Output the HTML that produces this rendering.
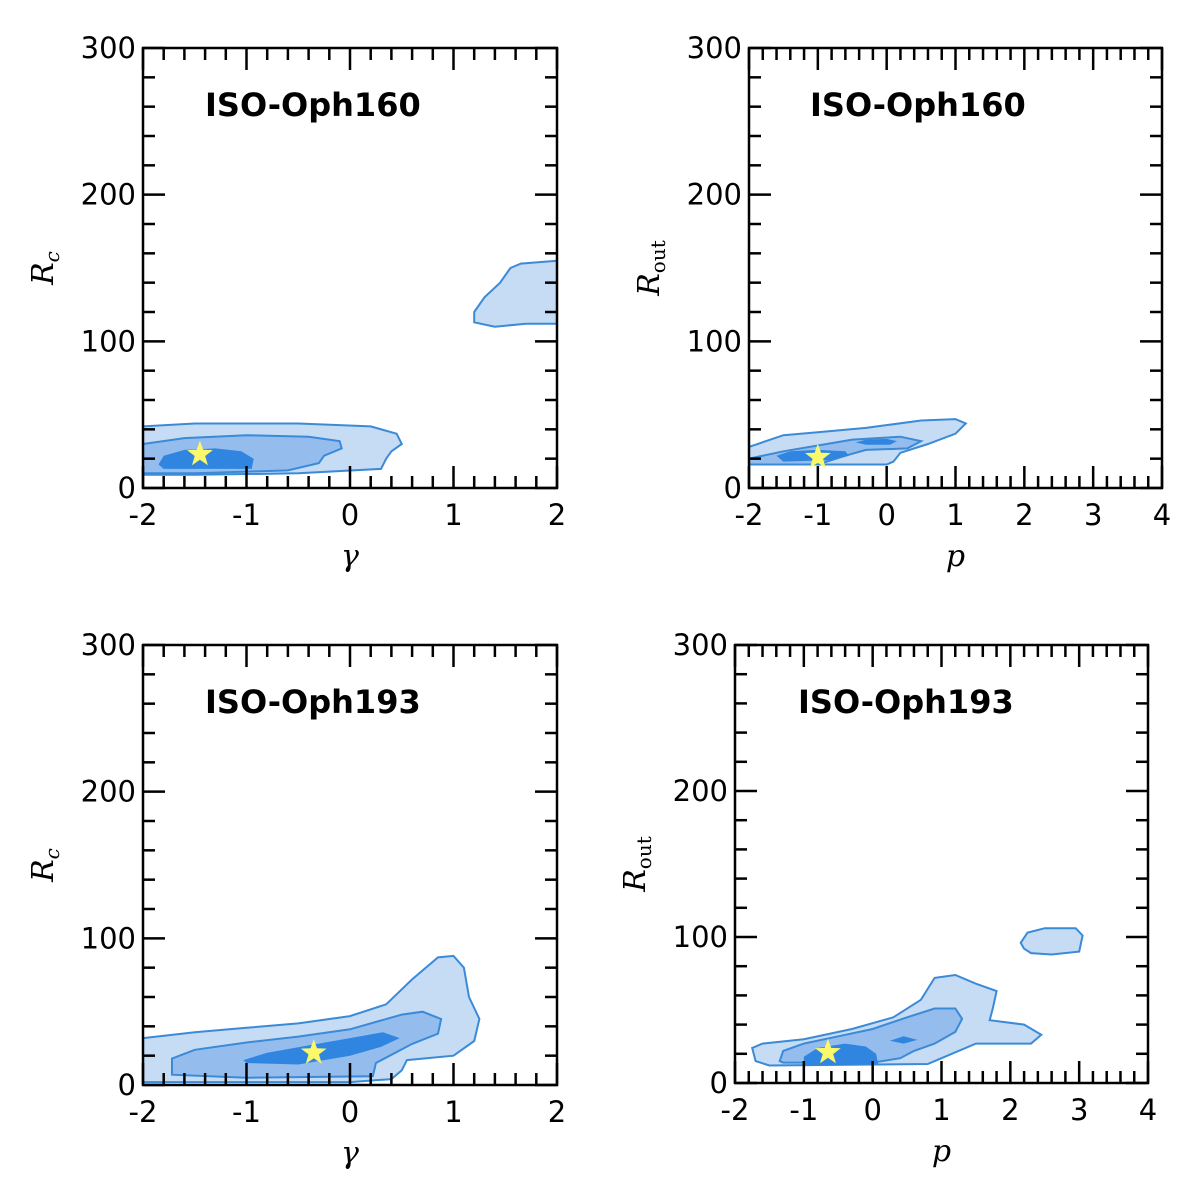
<!DOCTYPE html>
<html><head><meta charset="utf-8"><style>
body{margin:0;background:#fff}
svg text{font-family:"DejaVu Sans","Liberation Sans",sans-serif}
</style></head><body>
<svg id="fig" width="1200" height="1196" viewBox="0 0 1200 1196" xmlns="http://www.w3.org/2000/svg"></svg>
<script>
// ---- data (contour outlines in data coordinates) ----
const p1Outer=[[-2,42],[-1.5,44],[-0.5,44],[0.2,42],[0.45,37],[0.5,30],[0.4,25],[0.35,20],[0.3,13],[-0.5,10],[-1.5,9],[-2,9]];
const p1Mid=[[-2,30],[-1.6,34],[-1,36],[-0.4,35],[-0.1,32],[-0.08,27],[-0.25,22],[-0.3,17],[-0.6,12],[-1.5,10],[-2,10]];
const p1Dark=[[-1.85,16],[-1.8,22],[-1.6,26],[-1.3,27],[-1.05,25],[-0.93,20],[-0.95,13],[-1.8,13]];
const p1Island=[[1.2,120],[1.3,130],[1.45,140],[1.55,150],[1.65,153],[2,155],[2,112],[1.7,112],[1.4,110],[1.2,113]];
const p1Star=[-1.45,23];

const p2Outer=[[-2,28],[-1.5,36],[-1,38],[-0.3,41],[0.5,46],[1.0,47],[1.15,44],[1.0,37],[0.6,30],[0.2,24],[0.1,18],[0,16],[-2,16]];
const p2Mid=[[-2,20],[-1.5,25],[-1,29],[-0.5,33],[0.2,35],[0.5,32],[0.3,27],[-0.3,26],[-0.6,22],[-1,16],[-2,16]];
const p2Dark=[[-1.6,22],[-1.4,25],[-1.0,26],[-0.6,25],[-0.55,22],[-0.8,19],[-1.5,18]];
const p2Dark2=[[-0.45,31],[-0.3,33],[0,33.5],[0.15,32],[0.05,29.5],[-0.3,29.5]];
const p2Star=[-1.0,21];

const p3Outer=[[-2,32],[-1.5,36],[-1,39],[-0.5,42],[0,47],[0.35,55],[0.6,72],[0.85,87],[1.0,88],[1.1,80],[1.15,60],[1.25,45],[1.2,30],[1.0,20],[0.55,17],[0.5,10],[0.4,4],[0,2],[-2,2]];
const p3Mid=[[-1.72,8],[-1.72,18],[-1.5,24],[-1,29],[-0.5,33],[0,38],[0.5,48],[0.7,50],[0.88,45],[0.85,35],[0.6,28],[0.25,15],[0.22,6],[-1,5],[-1.72,7]];
const p3Dark=[[-1.03,17],[-0.8,22],[-0.4,27],[0,32],[0.32,36],[0.48,32],[0.3,26],[0,20],[-0.5,14],[-1,15]];
const p3Star=[-0.35,22];

const p4Outer=[[-1.7,15],[-1.75,24],[-1.6,27],[-1,30],[-0.3,37],[0.3,45],[0.7,57],[0.9,72],[1.2,74],[1.5,68],[1.8,63],[1.75,52],[1.7,43],[2.2,40],[2.45,33],[2.3,27],[1.5,27],[1.0,17],[0.8,13],[-1.5,12]];
const p4Mid=[[-1.35,15],[-1.3,22],[-1,27],[-0.5,32],[0,37],[0.5,45],[0.9,51],[1.2,51],[1.3,44],[1.2,35],[0.9,27],[0.6,22],[0.4,17],[0,14],[-1.3,14]];
const p4Dark=[[-1.0,12],[-1.0,18],[-0.8,24],[-0.4,27],[-0.1,25],[0.05,20],[0.08,13]];
const p4Dark2=[[0.25,29],[0.45,32],[0.65,29.5],[0.45,27]];
const p4Island=[[2.2,92],[2.15,96],[2.25,103],[2.5,106],[2.95,106],[3.05,101],[3.0,90],[2.6,88],[2.3,89]];
const p4Star=[-0.65,21];

const xTicksGamma=[-2,-1,0,1,2];
const xTicksP=[-2,-1,0,1,2,3,4];
const yTicks=[0,100,200,300];

const NS='http://www.w3.org/2000/svg';
const svg=document.getElementById('fig');
function mk(tag,attrs,parent){const e=document.createElementNS(NS,tag);for(const k in attrs)e.setAttribute(k,attrs[k]);(parent||svg).appendChild(e);return e;}
const C={outer:'#c6dcf5',mid:'#94bdee',dark:'#2f85e0',line:'#3a8ad8'};

function panel(cfg){
  const g=mk('g',{});
  
  
  const sx=v=>cfg.L+(v-cfg.x0)/(cfg.x1-cfg.x0)*(cfg.R-cfg.L);
  const sy=v=>cfg.B-v/300*(cfg.B-cfg.T);
  const clipId='clip'+cfg.name;
  const cp=mk('clipPath',{id:clipId},g);
  mk('rect',{x:cfg.L,y:cfg.T,width:cfg.R-cfg.L,height:cfg.B-cfg.T},cp);
  const cg=mk('g',{'clip-path':'url(#'+clipId+')'},g);
  cfg.polys.forEach(([pts,fill,stroke,nm])=>{
    const d='M'+pts.map(p=>sx(p[0]).toFixed(1)+','+sy(p[1]).toFixed(1)).join('L')+'Z';
    const e=mk('path',{d:d,fill:fill,stroke:stroke?C.line:'none','stroke-width':2},cg);
    
    
  });
  const cx=sx(cfg.star[0]),cy=sy(cfg.star[1]);let sp=[];
  for(let i=0;i<10;i++){const r=i%2?5.5:13.5;const a=-Math.PI/2+i*Math.PI/5;sp.push((cx+r*Math.cos(a)).toFixed(1)+','+(cy+r*Math.sin(a)).toFixed(1));}
  const st=mk('polygon',{points:sp.join(' '),fill:'#fbf96a',stroke:'none'},g);
  
  
  const fr=mk('rect',{x:cfg.L,y:cfg.T,width:cfg.R-cfg.L,height:cfg.B-cfg.T,fill:'none',stroke:'#000','stroke-width':2.5},g);
  
  
  const tk=mk('g',{stroke:'#000','stroke-width':2.5},g);
  const nx=Math.round((cfg.x1-cfg.x0)/0.2);
  for(let i=0;i<=nx;i++){const v=cfg.x0+i*0.2;const major=i%5===0;const len=major?22:12;const x=sx(v);
    mk('line',{x1:x,y1:cfg.B,x2:x,y2:cfg.B-len},tk);mk('line',{x1:x,y1:cfg.T,x2:x,y2:cfg.T+len},tk);}
  for(let v=0;v<=300;v+=20){const major=v%100===0;const len=major?22:12;const y=sy(v);
    mk('line',{x1:cfg.L,y1:y,x2:cfg.L+len,y2:y},tk);mk('line',{x1:cfg.R,y1:y,x2:cfg.R-len,y2:y},tk);}
  cfg.xticks.forEach(v=>{const t=mk('text',{x:sx(v),y:cfg.B+37,'font-size':29,'text-anchor':'middle'},g);t.textContent=v;
    });
  yTicks.forEach(v=>{const t=mk('text',{x:cfg.L-7,y:sy(v)+10,'font-size':29,'text-anchor':'end'},g);t.textContent=v;
    });
  const xt=mk('text',{x:(cfg.L+cfg.R)/2,y:cfg.B+78,'font-size':30,'font-style':'italic','text-anchor':'middle',style:'font-family:"DejaVu Serif","Liberation Serif",serif'},g);
  xt.textContent=cfg.xlabel;
  const yx=cfg.L-90,yy=(cfg.T+cfg.B)/2;
  const yt=mk('text',{x:yx,y:yy,'font-size':30,'font-style':'italic','text-anchor':'middle',transform:'rotate(-90 '+yx+' '+yy+')',style:'font-family:"DejaVu Serif","Liberation Serif",serif'},g);
  yt.innerHTML='R<tspan font-size="20" dy="6" font-style="'+(cfg.sub==='c'?'italic':'normal')+'">'+cfg.sub+'</tspan>';
  
  const tt=mk('text',{x:cfg.titleX,y:cfg.T+68,'font-size':32,'font-weight':'bold'},g);tt.textContent=cfg.title;
  
}
panel({name:'panel-oph160-gamma',L:143,R:557,T:48,B:488,x0:-2,x1:2,xticks:xTicksGamma,xlabel:'γ',sub:'c',title:'ISO-Oph160',titleX:205,star:p1Star,
  polys:[[p1Outer,C.outer,1,'contour-68'],[p1Mid,C.mid,1,'contour-95'],[p1Dark,C.dark,0,'contour-99'],[p1Island,C.outer,1,'contour-68-island']]});
panel({name:'panel-oph160-p',L:749,R:1162,T:48,B:488,x0:-2,x1:4,xticks:xTicksP,xlabel:'p',sub:'out',title:'ISO-Oph160',titleX:810,star:p2Star,
  polys:[[p2Outer,C.outer,1,'contour-68'],[p2Mid,C.mid,1,'contour-95'],[p2Dark,C.dark,0,'contour-99'],[p2Dark2,C.dark,0,'contour-99-b']]});
panel({name:'panel-oph193-gamma',L:143,R:557,T:645,B:1085,x0:-2,x1:2,xticks:xTicksGamma,xlabel:'γ',sub:'c',title:'ISO-Oph193',titleX:205,star:p3Star,
  polys:[[p3Outer,C.outer,1,'contour-68'],[p3Mid,C.mid,1,'contour-95'],[p3Dark,C.dark,0,'contour-99']]});
panel({name:'panel-oph193-p',L:735,R:1148,T:645,B:1083,x0:-2,x1:4,xticks:xTicksP,xlabel:'p',sub:'out',title:'ISO-Oph193',titleX:798,star:p4Star,
  polys:[[p4Outer,C.outer,1,'contour-68'],[p4Mid,C.mid,1,'contour-95'],[p4Dark,C.dark,0,'contour-99'],[p4Dark2,C.dark,0,'contour-99-b'],[p4Island,C.outer,1,'contour-68-island']]});
</script>
</body></html>
